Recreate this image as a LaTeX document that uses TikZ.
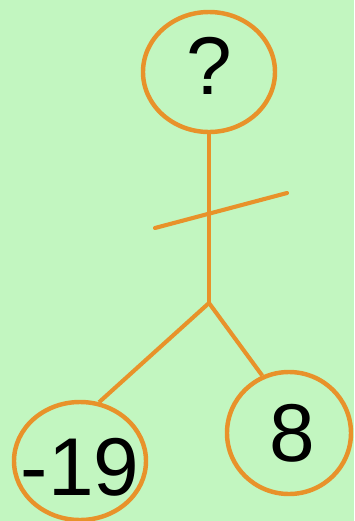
\documentclass[tikz,border=0pt]{standalone}
\usepackage{fontspec}
\setmainfont{Liberation Sans}
\usetikzlibrary{shapes.geometric}
\definecolor{fondo}{RGB}{194,246,192}
\definecolor{naranja}{RGB}{232,146,42}
\begin{document}
\begin{tikzpicture}[x=0.03cm,y=-0.03cm,
    nodo/.style={ellipse,draw=naranja,line width=3.8pt,inner sep=0pt},
    numero/.style={font=\fontsize{70}{70}\selectfont,inner sep=0pt},
    rama/.style={draw=naranja,line width=3.5pt}]
        % Fondo
        \fill[fondo] (0,0) rectangle (354,521);
        \useasboundingbox (0,0) rectangle (354,521);

        % Nodos del arbol
        \node[nodo,minimum width=3.96cm,minimum height=3.6cm,
          label={[numero,yshift=5pt]center:?}] (raiz) at (209,72) {};
        \node[nodo,minimum width=3.96cm,minimum height=3.54cm,
          label={[numero,yshift=-5pt]center:-19}] (izq) at (80,461) {};
        \node[nodo,minimum width=3.72cm,minimum height=3.66cm,
          label={[numero,xshift=3pt]center:8}] (der) at (289,433) {};

        % Puntos auxiliares
        \coordinate (union) at (209,303);
        \coordinate (barraA) at (155,228);
        \coordinate (barraB) at (287,193);

        % Ramas
        \draw[rama] (raiz.south) -- (union);
        \draw[rama] (union) -- (izq.72);
        \draw[rama] (union) -- (der.115);

        % Marca cruzada
        \draw[rama,line cap=round] (barraA) -- (barraB);
\end{tikzpicture}
\end{document}
